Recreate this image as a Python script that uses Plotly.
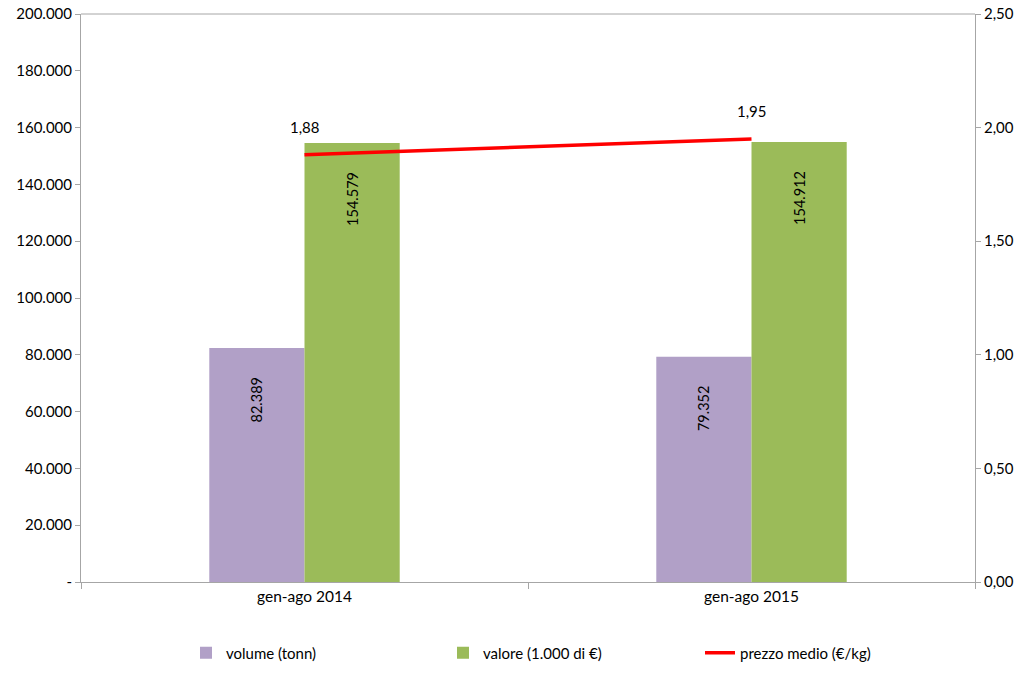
import plotly.graph_objects as go

categories = ["gen-ago 2014", "gen-ago 2015"]
volume = [82389, 79352]
valore = [154579, 154912]
prezzo = [1.88, 1.95]

vol_labels = ["82.389", "79.352"]
val_labels = ["154.579", "154.912"]
prezzo_labels = ["1,88", "1,95"]

left_ticks = [0, 20000, 40000, 60000, 80000, 100000, 120000, 140000, 160000, 180000, 200000]
left_ticktext = ["-", "20.000", "40.000", "60.000", "80.000", "100.000", "120.000",
                 "140.000", "160.000", "180.000", "200.000"]
right_ticks = [0, 0.5, 1.0, 1.5, 2.0, 2.5]
right_ticktext = ["0,00", "0,50", "1,00", "1,50", "2,00", "2,50"]

FONT = "Lato, 'Open Sans', sans-serif"
AXC = "#A6A6A6"
W, H = 1023, 679
PAD = "\u00a0" * 7

fig = go.Figure()
fig.add_trace(go.Bar(
    x=categories, y=volume, name="volume (tonn)",
    marker=dict(color="#B1A0C7", line=dict(width=0)),
    text=vol_labels, texttemplate="%{text}" + PAD, textposition="inside", textangle=-90,
    insidetextanchor="end", textfont=dict(size=14.5, color="black", family=FONT),
    hoverinfo="skip",
))
fig.add_trace(go.Bar(
    x=categories, y=valore, name="valore (1.000 di €)",
    marker=dict(color="#9BBB59", line=dict(width=0)),
    text=val_labels, texttemplate="%{text}" + PAD, textposition="inside", textangle=-90,
    insidetextanchor="end", textfont=dict(size=14.5, color="black", family=FONT),
    hoverinfo="skip",
))
fig.add_trace(go.Scatter(
    x=categories, y=prezzo, name="prezzo medio (€/kg)", yaxis="y2",
    mode="lines", line=dict(color="#FF0000", width=3.5), hoverinfo="skip",
))
for c, p, t in zip(categories, prezzo, prezzo_labels):
    fig.add_annotation(x=c, y=p, yref="y2", text=t, showarrow=False,
                       yshift=28, font=dict(size=15, color="black", family=FONT))

fig.add_shape(type="line", xref="paper", yref="paper", x0=0, x1=1, y0=1, y1=1,
              line=dict(color=AXC, width=1))

fig.update_layout(
    width=W, height=H,
    margin=dict(l=81, r=48, t=14, b=97, autoexpand=False),
    paper_bgcolor="white", plot_bgcolor="white",
    separators=",.",
    barmode="group", bargap=0.574, bargroupgap=0,
    font=dict(family=FONT, size=15, color="black"),
    showlegend=True,
    legend=dict(orientation="h", x=186 / W, xanchor="left", xref="container",
                y=(H - 653) / H, yanchor="middle", yref="container",
                entrywidth=212, font=dict(size=15, family=FONT),
                traceorder="normal"),
    xaxis=dict(type="category", showline=True, linecolor=AXC, linewidth=1,
               ticks="outside", tickson="boundaries", ticklen=6, tickcolor=AXC,
               showgrid=False, tickfont=dict(size=15.5)),
    yaxis=dict(range=[0, 200000], tickvals=left_ticks, ticktext=left_ticktext,
               showline=True, linecolor=AXC, linewidth=1, ticks="outside",
               ticklen=5, tickcolor=AXC, showgrid=False, zeroline=False,
               tickfont=dict(size=15), ticklabeloverflow="allow"),
    yaxis2=dict(range=[0, 2.5], tickvals=right_ticks, ticktext=right_ticktext,
                overlaying="y", side="right", showline=True, linecolor=AXC,
                linewidth=1, ticks="outside", ticklen=5, tickcolor=AXC,
                showgrid=False, zeroline=False, tickfont=dict(size=15),
                ticklabeloverflow="allow"),
)

fig.write_html("out.html", config={"displayModeBar": False},
               post_script="document.body.style.margin='0';document.body.style.overflow='hidden';")
